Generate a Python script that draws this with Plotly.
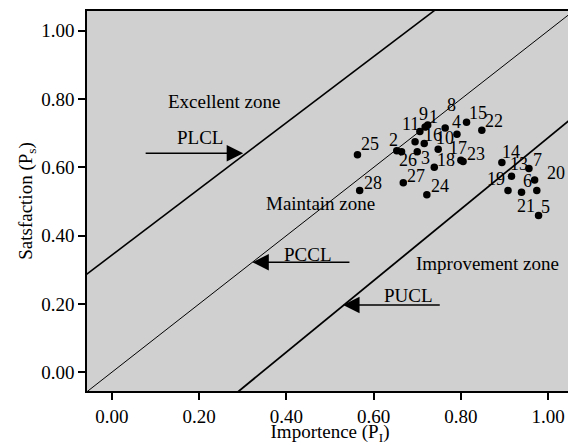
import plotly.graph_objects as go

# ---- data ----
labels = [str(i) for i in range(1, 29)]
importance = [0.724, 0.653, 0.700, 0.791, 0.978, 0.939, 0.956, 0.764, 0.718, 0.748,
              0.706, 0.695, 0.916, 0.894, 0.813, 0.716, 0.800, 0.739, 0.908, 0.969,
              0.974, 0.848, 0.805, 0.722, 0.563, 0.664, 0.668, 0.568]
satisfaction = [0.724, 0.649, 0.646, 0.697, 0.459, 0.527, 0.597, 0.715, 0.718, 0.653,
                0.705, 0.675, 0.574, 0.614, 0.732, 0.670, 0.621, 0.600, 0.532, 0.563,
                0.532, 0.709, 0.617, 0.520, 0.637, 0.646, 0.555, 0.532]

# control lines: name, slope, intercept
line_names = ["PLCL", "PCCL", "PUCL"]
line_slopes = [0.969, 1.0, 1.047]
line_intercepts = [0.343, 0.0, -0.360]

zone_names = ["Excellent zone", "Maintain zone", "Improvement zone"]

# ---- styling / placement ----
XR = [-0.057, 1.057]
YR = [-0.055, 1.058]
FONT = "Liberation Serif, Times New Roman, DejaVu Serif, serif"
line_widths = [1.6, 1.0, 1.8]

# label offsets (px, dy positive = down) from point to label centre
label_offsets = {
    "1": (5.6, -8), "2": (-3.7, -10.7), "3": (8.4, 6.7), "4": (0, -12.3),
    "5": (7.4, -8.3), "6": (6, -11.7), "7": (8.3, -8.4), "8": (6.7, -23),
    "9": (-1.7, -12.8), "10": (6.7, -11), "11": (-9, -8), "13": (7.7, -12.4),
    "14": (9, -10.3), "15": (11, -9.6), "16": (8.3, -8.7), "17": (-2.4, -12.1),
    "18": (11.7, -7.7), "19": (-11.7, -11.7), "20": (21, -6.6), "21": (-10.4, 15),
    "22": (12.3, -9.3), "23": (12.7, -7.4), "24": (13, -8.3), "25": (12.4, -10.7),
    "26": (6.7, 8), "27": (12.7, -6.3), "28": (13.3, -7.3),
}

fig = go.Figure()

for name, m, c, w in zip(line_names, line_slopes, line_intercepts, line_widths):
    xs = [XR[0] - 0.2, XR[1] + 0.2]
    fig.add_trace(go.Scatter(x=xs, y=[m * v + c for v in xs], mode="lines",
                             line=dict(color="black", width=w),
                             hoverinfo="skip", showlegend=False, name=name))

fig.add_trace(go.Scatter(x=importance, y=satisfaction, mode="markers",
                         marker=dict(color="black", size=7.5),
                         text=labels, showlegend=False))

annotations = []
for lab, xv, yv in zip(labels, importance, satisfaction):
    if lab not in label_offsets:
        continue
    dx, dy = label_offsets[lab]
    annotations.append(dict(x=xv, y=yv, xref="x", yref="y", text=lab, showarrow=False,
                            xshift=dx, yshift=-dy, xanchor="center", yanchor="middle",
                            font=dict(family=FONT, size=18, color="black")))

# zone texts
zone_pos = [(0.257, 0.794), (0.479, 0.494), (0.862, 0.319)]
for t, (xv, yv) in zip(zone_names, zone_pos):
    annotations.append(dict(x=xv, y=yv, xref="x", yref="y", text=t, showarrow=False,
                            font=dict(family=FONT, size=19, color="black")))

# arrows with labels
arrow_specs = [  # label pos, tail, tip
    ((0.201, 0.687), (0.074, 0.641), (0.301, 0.641)),
    ((0.450, 0.344), (0.548, 0.322), (0.322, 0.322)),
    ((0.679, 0.226), (0.755, 0.197), (0.530, 0.197)),
]
for name, (lp, tail, tip) in zip(line_names, arrow_specs):
    annotations.append(dict(x=lp[0], y=lp[1], xref="x", yref="y", text=name, showarrow=False,
                            font=dict(family=FONT, size=19, color="black")))
    annotations.append(dict(x=tip[0], y=tip[1], ax=tail[0], ay=tail[1], xref="x", yref="y",
                            axref="x", ayref="y", text="", showarrow=True,
                            arrowhead=2, arrowsize=2.2, arrowwidth=1.5, arrowcolor="black"))

axis_common = dict(showline=True, linecolor="black", linewidth=1.5, mirror=True,
                   ticks="outside", ticklen=7, tickwidth=1.5, tickcolor="black",
                   showgrid=False, zeroline=False, tickformat=".2f",
                   tickfont=dict(family=FONT, size=19, color="black"),
                   tickvals=[0, 0.2, 0.4, 0.6, 0.8, 1.0])

# the page body adds an 8px offset, so the figure is sized/offset to compensate
fig.update_layout(
    width=568, height=437,
    margin=dict(l=79, r=3, t=1, b=54),
    paper_bgcolor="white", plot_bgcolor="#D0D0D0",
    xaxis=dict(range=XR, title=dict(text="Importence (P<sub>I</sub>)", standoff=0,
                                    font=dict(family=FONT, size=19, color="black")),
               **axis_common),
    yaxis=dict(range=YR, title=dict(text="Satsfaction (P<sub>s</sub>)", standoff=4,
                                    font=dict(family=FONT, size=19, color="black")),
               **axis_common),
    annotations=annotations,
)

fig.write_html("out.html")
